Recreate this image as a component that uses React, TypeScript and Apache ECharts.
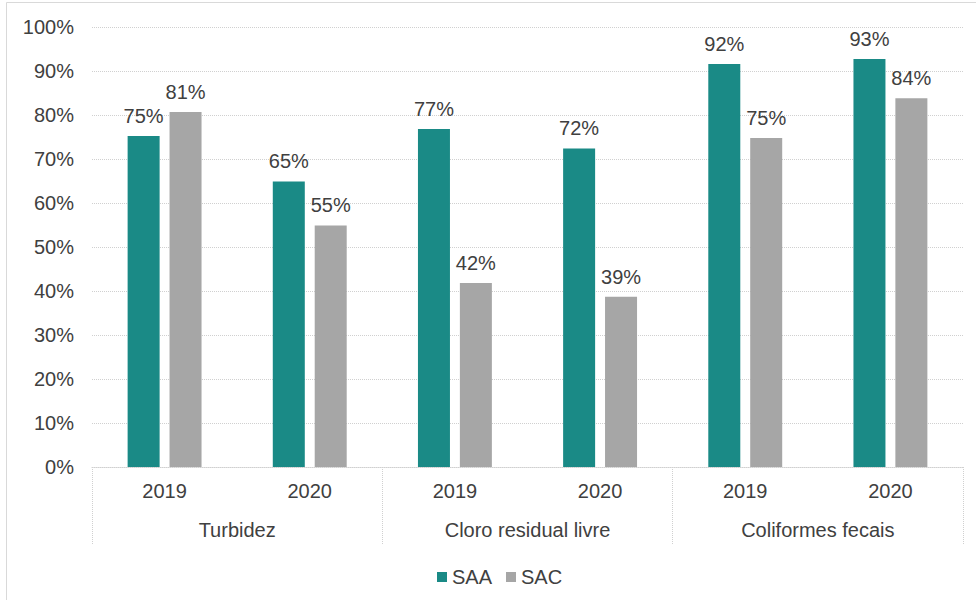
import React, { useEffect, useRef } from "react";
import * as echarts from "echarts";

const years = ["2019", "2020", "2019", "2020", "2019", "2020"];
const groups = ["Turbidez", "Cloro residual livre", "Coliformes fecais"];
const saa = [75.2, 64.9, 76.8, 72.4, 91.6, 92.7];
const sac = [80.7, 54.9, 41.8, 38.7, 74.8, 83.8];
const yTicks = { min: 0, max: 100, interval: 10 };

const FONT = "'Liberation Sans', Arial, sans-serif";
const TXT = "#404040";
const GRID = "#d0d0d0";

export default function App() {
  const ref = useRef<HTMLDivElement>(null);
  useEffect(() => {
    if (!ref.current) return;
    const chart = echarts.init(ref.current, undefined, { renderer: "svg" });
    const label = {
      show: true,
      position: "top",
      distance: 10,
      fontSize: 20,
      fontFamily: FONT,
      color: TXT,
      formatter: (p: any) => Math.round(p.value) + "%",
    };
    chart.setOption({
      animation: false,
      textStyle: { fontFamily: FONT },
      grid: { left: 92, right: 13, top: 27, bottom: 133 },
      graphic: [
        {
          type: "rect",
          shape: { x: 6.5, y: 2.5, width: 990, height: 620 },
          style: { fill: "none", stroke: "#d9d9d9", lineWidth: 1 },
          silent: true,
        },
      ],
      legend: {
        left: 432,
        top: 562,
        icon: "rect",
        itemWidth: 10,
        itemHeight: 10,
        itemGap: 14,
        textStyle: { fontSize: 20, color: TXT, fontFamily: FONT },
        data: ["SAA", "SAC"],
      },
      xAxis: [
        {
          type: "category",
          data: years,
          position: "bottom",
          axisLine: { show: true, lineStyle: { color: GRID, type: "dotted", width: 1 } },
          axisTick: { show: false },
          axisLabel: { fontSize: 20, color: TXT, fontFamily: FONT, margin: 14 },
        },
        {
          type: "category",
          data: groups,
          position: "bottom",
          axisLine: { show: false },
          axisTick: { show: true, length: 77, lineStyle: { color: GRID, type: "dotted", width: 1 } },
          axisLabel: { fontSize: 20, color: TXT, fontFamily: FONT, margin: 53 },
        },
      ],
      yAxis: {
        type: "value",
        min: yTicks.min,
        max: yTicks.max,
        interval: yTicks.interval,
        axisLine: { show: false },
        axisTick: { show: false },
        axisLabel: { formatter: "{value}%", fontSize: 20, color: TXT, fontFamily: FONT, margin: 18 },
        splitLine: { show: true, lineStyle: { color: GRID, type: "dotted", width: 1 } },
      },
      series: [
        {
          name: "SAA",
          type: "bar",
          xAxisIndex: 0,
          data: saa,
          barWidth: 32,
          barGap: "31%",
          itemStyle: { color: "#1a8a86" },
          label,
        },
        {
          name: "SAC",
          type: "bar",
          xAxisIndex: 0,
          data: sac,
          barWidth: 32,
          barGap: "31%",
          itemStyle: { color: "#a6a6a6" },
          label,
        },
      ],
    });
    return () => chart.dispose();
  }, []);
  return (
    <div
      ref={ref}
      style={{ position: "fixed", left: 0, top: 0, width: 976, height: 600, background: "#fff" }}
    />
  );
}
